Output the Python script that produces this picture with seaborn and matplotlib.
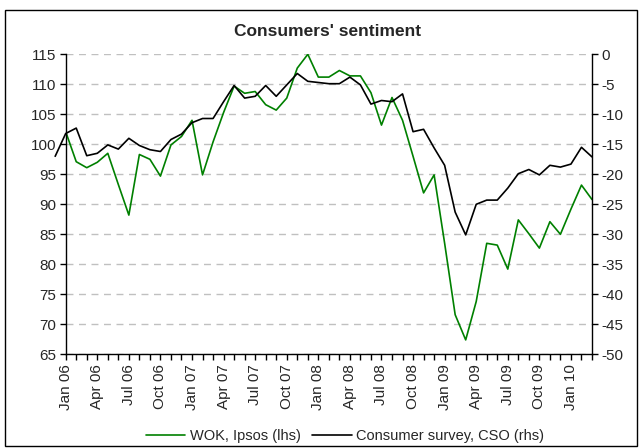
import numpy as np
import pandas as pd
import matplotlib
matplotlib.use("Agg")
import matplotlib.pyplot as plt
from matplotlib.patches import Rectangle
from matplotlib.ticker import MultipleLocator, FixedLocator
import seaborn as sns

# WOK, Ipsos index (left axis), Jan 06 - Mar 10
wok_months = pd.date_range("2006-01-01", "2010-03-01", freq="MS")
wok = [102.1, 97.1, 96.1, 97.0, 98.5, 93.3, 88.2, 98.3, 97.5, 94.7, 99.9, 101.3,
       104.0, 94.9, 100.4, 105.3, 109.7, 108.5, 108.8, 106.6, 105.7, 107.7, 112.7, 115.0,
       111.2, 111.2, 112.3, 111.4, 111.4, 108.6, 103.2, 107.8, 104.0, 98.0, 91.9, 94.9,
       83.5, 71.6, 67.4, 73.8, 83.5, 83.2, 79.2, 87.4, 85.1, 82.7, 87.1, 85.0,
       89.2, 93.2, 90.8]

# Consumer survey, CSO balance (right axis), Dec 05 - Mar 10
cso_months = pd.date_range("2005-12-01", "2010-03-01", freq="MS")
cso = [-17.0,
       -13.2, -12.3, -16.9, -16.5, -15.1, -15.8, -14.0, -15.2, -15.9, -16.2, -14.2, -13.3,
       -11.4, -10.7, -10.7, -7.9, -5.2, -7.3, -7.0, -5.2, -7.0, -5.1, -3.2, -4.5,
       -4.7, -4.9, -4.9, -3.8, -5.1, -8.3, -7.7, -7.9, -6.6, -12.9, -12.5, -15.6,
       -18.5, -26.3, -30.1, -25.0, -24.3, -24.3, -22.3, -19.9, -19.2, -20.1, -18.5, -18.8,
       -18.3, -15.5, -17.1]

lhs_label = "WOK, Ipsos (lhs)"
rhs_label = "Consumer survey, CSO (rhs)"


def month_pos(d):
    return (d.year - 2006) * 12 + d.month - 1


df_wok = pd.DataFrame({"pos": month_pos(wok_months), "value": wok})
df_cso = pd.DataFrame({"pos": month_pos(cso_months), "value": cso})

sns.set_style("ticks")
plt.rcParams["font.family"] = ["Liberation Sans", "DejaVu Sans"]
plt.rcParams["axes.unicode_minus"] = False

fig = plt.figure(figsize=(6.43, 4.48), dpi=100)
ax = fig.add_axes([65.7 / 643, 1 - 354.3 / 448, (592 - 65.7) / 643, 300 / 448])
ax2 = ax.twinx()

sns.lineplot(data=df_wok, x="pos", y="value", ax=ax, color="#008000", lw=1.2, legend=False)
sns.lineplot(data=df_cso, x="pos", y="value", ax=ax2, color="black", lw=1.2,
             clip_on=False, legend=False)

ax.set_xlim(0, len(wok) - 1)
ax.set_ylim(65, 115)
ax2.set_ylim(-50, 0)
ax.yaxis.set_major_locator(MultipleLocator(5))
ax2.yaxis.set_major_locator(MultipleLocator(5))

major = df_wok["pos"].values[::3]
ax.xaxis.set_major_locator(FixedLocator(major))
ax.xaxis.set_minor_locator(MultipleLocator(1))
ax.set_xticklabels(wok_months[::3].strftime("%b %y"), rotation=90, fontsize=11)

for a in (ax, ax2):
    a.set_xlabel("")
    a.set_ylabel("")
    a.spines["top"].set_visible(False)
    a.tick_params(axis="y", labelsize=11, length=4, width=1, color="black", pad=3)
ax.spines["right"].set_visible(False)
ax2.spines["left"].set_visible(False)
ax2.spines["bottom"].set_visible(False)
for s in ("left", "bottom"):
    ax.spines[s].set_color("black")
    ax.spines[s].set_linewidth(1)
ax2.spines["right"].set_color("black")
ax2.spines["right"].set_linewidth(1)
ax.tick_params(axis="x", which="both", length=4, width=1, color="black", pad=3)

ax.yaxis.grid(True, color="#c0c0c0", linestyle=(0, (5, 4)), lw=1.0)

fig.text(0.51, 1 - 31 / 448, "Consumers' sentiment", ha="center", va="center",
         fontsize=12.5, fontweight="bold")

handles = [ax.get_lines()[0], ax2.get_lines()[0]]
fig.legend(handles, [lhs_label, rhs_label], loc="center",
           bbox_to_anchor=(345 / 643, 1 - 436 / 448), ncol=2, frameon=False,
           fontsize=10.5, handlelength=2.7, columnspacing=0.8, handletextpad=0.3)

fig.patches.append(Rectangle((5 / 643, 2 / 448), 632 / 643, 436 / 448,
                             transform=fig.transFigure, fill=False,
                             ec="black", lw=1))

fig.savefig("out.png", dpi=100)
